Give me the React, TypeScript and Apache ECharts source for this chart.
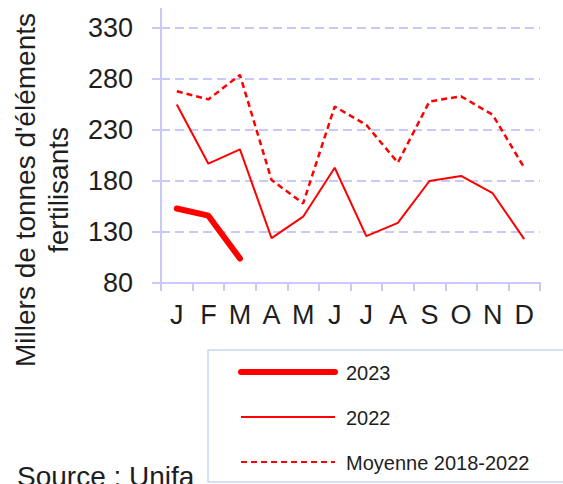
import React, { useEffect, useRef } from "react";
import * as echarts from "echarts";

const months = ["J", "F", "M", "A", "M", "J", "J", "A", "S", "O", "N", "D"];
const yTicks = [80, 130, 180, 230, 280, 330];
const values2023 = [153, 146, 104];
const values2022 = [255, 197, 211, 124, 145, 193, 126, 139, 180, 185, 168, 123];
const valuesAvg = [268, 260, 284, 181, 158, 253, 235, 198, 258, 263, 245, 193];
const seriesNames = ["2023", "2022", "Moyenne 2018-2022"];
const axisTitle1 = "Millers de tonnes d'éléments";
const axisTitle2 = "fertilisants";
const sourceText = "Source : Unifa";

const FONT = 'Arial, "Liberation Sans", sans-serif';
const AXIS_COLOR = "#c8c8fa";
const RED = "#ff0000";
const TEXT = "#1e1e1e";

export default function App() {
  const ref = useRef<HTMLDivElement>(null);
  useEffect(() => {
    if (!ref.current) return;
    const chart = echarts.init(ref.current, undefined, { renderer: "svg" });
    const legendY = [372, 417, 462];
    const legendStyles = [
      { lineWidth: 6, lineCap: "round" },
      { lineWidth: 2 },
      { lineWidth: 2.2, lineDash: [6, 4] },
    ];
    const legendGraphics: any[] = [];
    seriesNames.forEach((name, i) => {
      legendGraphics.push({
        type: "line",
        shape: { x1: 241, y1: legendY[i], x2: 335, y2: legendY[i] },
        style: { stroke: RED, ...legendStyles[i] },
      });
      legendGraphics.push({
        type: "text",
        x: 346,
        y: legendY[i] + 1,
        style: {
          text: name,
          font: `20px ${FONT}`,
          fill: TEXT,
          textAlign: "left",
          textVerticalAlign: "middle",
        },
      });
    });
    chart.setOption({
      animation: false,
      backgroundColor: "#ffffff",
      grid: { left: 161, right: 23, top: 28, bottom: 201, containLabel: false },
      xAxis: {
        type: "category",
        data: months,
        boundaryGap: true,
        axisLine: { show: true, lineStyle: { color: AXIS_COLOR, width: 2 } },
        axisTick: { show: true, length: 8, lineStyle: { color: AXIS_COLOR, width: 2 } },
        axisLabel: { fontSize: 27, fontFamily: FONT, color: TEXT, margin: 18, interval: 0 },
        splitLine: { show: false },
      },
      yAxis: {
        type: "value",
        min: yTicks[0],
        max: yTicks[yTicks.length - 1],
        interval: 50,
        axisLine: { show: true, lineStyle: { color: AXIS_COLOR, width: 2 } },
        axisTick: { show: true, length: 9, lineStyle: { color: AXIS_COLOR, width: 2 } },
        axisLabel: { fontSize: 27, fontFamily: FONT, color: TEXT, margin: 28 },
        splitLine: {
          show: true,
          lineStyle: { color: AXIS_COLOR, width: 2, type: [9, 5] },
        },
      },
      series: [
        {
          name: seriesNames[0],
          type: "line",
          data: values2023,
          symbol: "none",
          lineStyle: { color: RED, width: 6, cap: "round", join: "round" },
          z: 5,
        },
        {
          name: seriesNames[1],
          type: "line",
          data: values2022,
          symbol: "none",
          lineStyle: { color: RED, width: 2 },
        },
        {
          name: seriesNames[2],
          type: "line",
          data: valuesAvg,
          symbol: "none",
          lineStyle: { color: RED, width: 2.5, type: [6, 4] },
        },
      ],
      graphic: [
        {
          type: "line",
          shape: { x1: 161, y1: 8, x2: 161, y2: 28 },
          style: { stroke: AXIS_COLOR, lineWidth: 2 },
        },
        {
          type: "text",
          x: 25,
          y: 190,
          rotation: Math.PI / 2,
          style: {
            text: axisTitle1,
            font: `28px ${FONT}`,
            fill: TEXT,
            textAlign: "center",
            textVerticalAlign: "middle",
          },
        },
        {
          type: "text",
          x: 58,
          y: 190,
          rotation: Math.PI / 2,
          style: {
            text: axisTitle2,
            font: `28px ${FONT}`,
            fill: TEXT,
            textAlign: "center",
            textVerticalAlign: "middle",
          },
        },
        {
          type: "rect",
          shape: { x: 208, y: 350, width: 400, height: 132 },
          style: { fill: "#ffffff", stroke: "#c8d6ee", lineWidth: 1.5 },
        },
        ...legendGraphics,
        {
          type: "text",
          x: 17,
          y: 462,
          style: {
            text: sourceText,
            font: `28px ${FONT}`,
            fill: TEXT,
            textAlign: "left",
            textVerticalAlign: "top",
          },
        },
      ],
    });
    return () => chart.dispose();
  }, []);
  return <div ref={ref} style={{ width: 563, height: 484, position: "absolute", left: 0, top: 0 }} />;
}
